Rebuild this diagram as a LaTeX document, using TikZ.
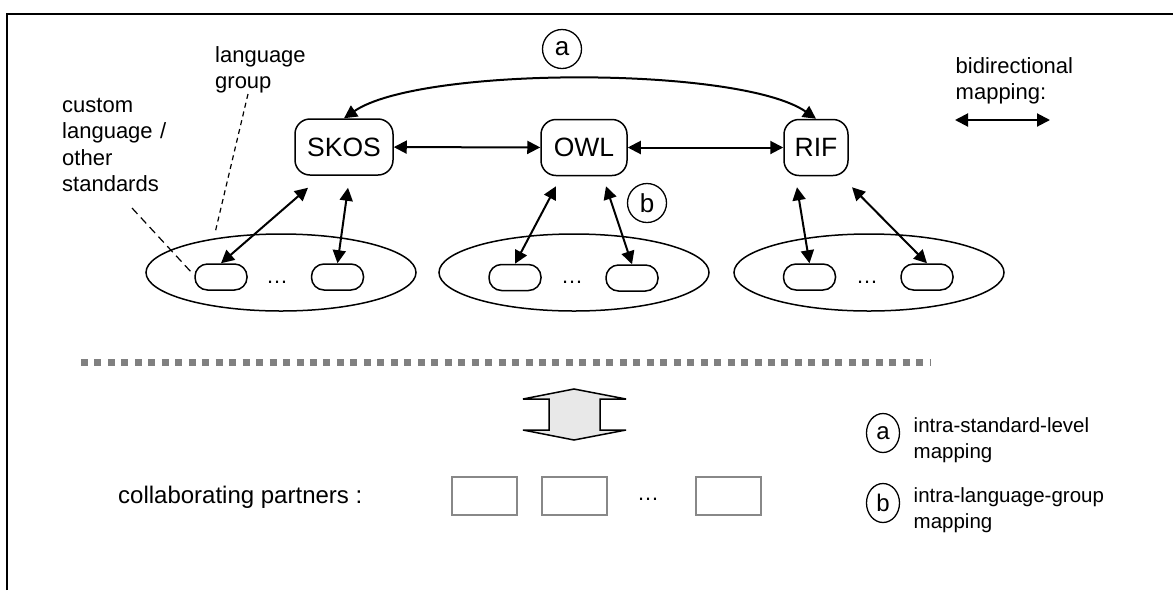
\documentclass[tikz,border=0pt]{standalone}
\usepackage{fontspec}
\setmainfont{Liberation Sans}
\usetikzlibrary{arrows.meta,shapes.geometric}
\definecolor{sepgray}{RGB}{128,128,128}
\definecolor{boxgray}{RGB}{136,136,136}
\definecolor{arrowfill}{RGB}{232,232,232}
\begin{document}
\begin{tikzpicture}[x=1pt,y=-1pt,
  bi/.style={line width=2pt,{Triangle[length=13pt,width=13pt]}-{Triangle[length=13pt,width=13pt]}},
  stdbox/.style={draw,line width=1.5pt,rounded corners=15pt,minimum height=56pt,inner sep=0pt,font=\fontsize{26.5}{30}\selectfont},
  langbox/.style={draw,line width=1.5pt,rounded corners=12.5pt,minimum width=52pt,minimum height=26pt,inner sep=0pt},
  groupell/.style={draw,line width=1.5pt,ellipse,minimum width=270pt,minimum height=77pt,inner sep=0pt},
  tag/.style={draw,circle,line width=1.3pt,minimum size=39pt,inner sep=0pt,font=\fontsize{26}{30}\selectfont},
  legtag/.style={draw,ellipse,line width=1.3pt,minimum width=33pt,minimum height=39pt,inner sep=0pt,font=\fontsize{24}{28}\selectfont},
  label/.style={anchor=base west,inner sep=0pt,align=left,text width=200pt,font=\fontsize{22}{26.5}\selectfont},
  legtext/.style={anchor=base west,inner sep=0pt,align=left,text width=250pt,font=\fontsize{20.5}{26}\selectfont},
  dots/.style={anchor=base,inner sep=0pt,font=\fontsize{22}{26}\selectfont},
  partner/.style={draw=boxgray,line width=1.5pt,minimum width=65pt,minimum height=38pt,inner sep=0pt},
  pointer/.style={line width=1.2pt}
]
\useasboundingbox (0,0) rectangle (1173,590);

% frame (top and left edges)
\draw[line width=2.2pt] (7,590) -- (7,14) -- (1173,14);

% standards
\node[stdbox,minimum width=98pt] (skos) at (344,147) {SKOS};
\node[stdbox,minimum width=86pt] (owl)  at (584,147.5) {OWL};
\node[stdbox,minimum width=64pt] (rif)  at (816,147.5) {RIF};

% language groups
\node[groupell] (g1) at (281,272.5) {};
\node[groupell] (g2) at (574,272.5) {};
\node[groupell] (g3) at (869,272.5) {};

\node[langbox] (l1a) at (221,277) {};
\node[langbox] (l1b) at (337.5,277) {};
\node[langbox] (l2a) at (515,277.5) {};
\node[langbox] (l2b) at (632,278) {};
\node[langbox] (l3a) at (809.5,277) {};
\node[langbox] (l3b) at (927,277) {};

\node[dots] (d1) at (277,283) {…};
\node[dots] (d2) at (572,283) {…};
\node[dots] (d3) at (867,283) {…};

% mappings between standards
\draw[bi] (skos) -- (owl);
\draw[bi] (owl) -- (rif);
\draw[bi] (skos.north) .. controls (420,66) and (740,66) .. (rif.north);

% mappings inside the language groups
\draw[bi] ([shift={(-36,12)}]skos.south) -- (l1a.north);
\draw[bi] ([shift={(4,12)}]skos.south) -- (l1b.north);
\draw[bi] ([shift={(-28,10)}]owl.south) -- (l2a.north);
\draw[bi] ([shift={(22,10)}]owl.south) -- (l2b.north);
\draw[bi] ([shift={(-19,11)}]rif.south) -- (l3a.north);
\draw[bi] ([shift={(36,11)}]rif.south) -- (l3b.north);

% markers
\node[tag] (ta) at (562,49) {a};
\node[tag] (tb) at (647,203) {b};

% annotations
\node[label] (lglabel) at (215,62) {language\\group};
\node[label] (cllabel) at (62,112) {custom\\language /\\other\\standards};
\coordinate (lgfrom) at (248,94);
\coordinate (lgto) at (215,233);
\coordinate (clfrom) at (132,208);
\coordinate (clto) at (192,273);
\draw[pointer,dash pattern=on 5pt off 4pt] (lgfrom) -- (lgto);
\draw[pointer,dash pattern=on 8pt off 5pt] (clfrom) -- (clto);

\node[label] (bilabel) at (955.5,73) {bidirectional\\mapping:};
\coordinate (bileft) at (955,120);
\coordinate (biright) at (1050,120);
\draw[bi] (bileft) -- (biright);

% separator
\coordinate (sepl) at (81,362.5);
\coordinate (sepr) at (931,362.5);
\draw[sepgray,line width=7pt,dash pattern=on 7pt off 6.47pt] (sepl) -- (sepr);

% exchange arrow
\draw[line width=1.5pt,fill=arrowfill,line join=miter]
  (574,389) -- (626,399) -- (600,399) -- (600,430) -- (626,430) -- (574,440)
  -- (523,430) -- (549,430) -- (549,399) -- (523,399) -- cycle;

% collaborating partners
\node[anchor=base west,inner sep=0pt,font=\fontsize{24}{28}\selectfont] (cp) at (118,503) {collaborating partners :};
\node[partner] (p1) at (484.5,496) {};
\node[partner] (p2) at (574.5,496) {};
\node[dots] (pd) at (648,500) {…};
\node[partner] (p3) at (728.5,496) {};

% legend
\node[legtag] (la) at (883,433) {a};
\node[legtext] (latext) at (913.5,432) {intra-standard-level\\mapping};
\node[legtag] (lb) at (883,503) {b};
\node[legtext] (lbtext) at (913.5,502) {intra-language-group\\mapping};
\end{tikzpicture}
\end{document}
